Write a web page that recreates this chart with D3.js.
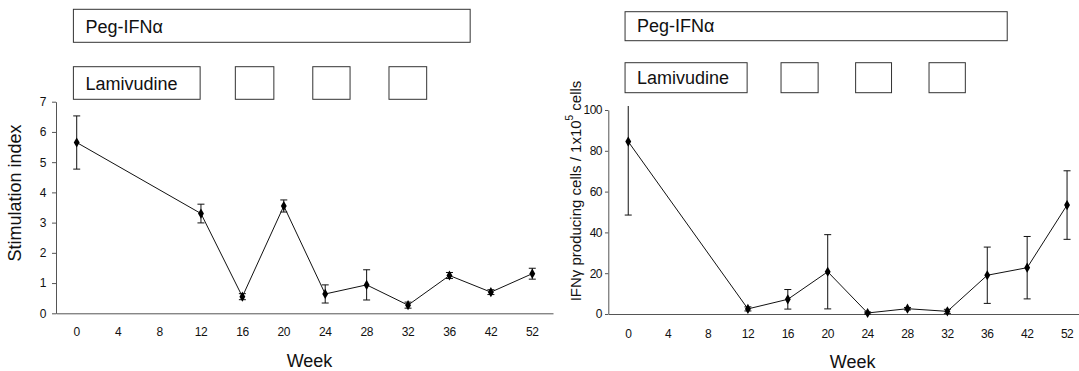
<!DOCTYPE html>
<html lang="en">
  <head>
    <meta charset="UTF-8" />
    <title>Peg-IFN / Lamivudine response</title>
    <style>
      body { margin: 0; background: #fff; }
      svg { display: block; font-family: "Liberation Sans", Arial, sans-serif; }
    </style>
  </head>
  <body>
    <div id="chart"></div>
    <script src="https://cdn.jsdelivr.net/npm/d3@7"></script>
    <script>
      //////////////////////////////////// Data ////////////////////////////////////
      var weeks = ["0", "4", "8", "12", "16", "20", "24", "28", "32", "36", "42", "52"];
      var sampledWeeks = ["0", "12", "16", "20", "24", "28", "32", "36", "42", "52"];

      //left panel: stimulation index, mean and error
      var siMean = [5.65, 3.3, 0.55, 3.55, 0.64, 0.94, 0.27, 1.25, 0.7, 1.31];
      var siErr = [0.88, 0.31, 0.1, 0.2, 0.3, 0.5, 0.1, 0.1, 0.08, 0.18];
      var siTicks = [0, 1, 2, 3, 4, 5, 6, 7];

      //right panel: IFNy producing cells per 1x10^5 cells
      var ifnMean = [84.5, 2.5, 7.2, 20.7, 0.5, 2.6, 1.3, 19, 22.7, 53.4];
      var ifnErr = [36, 1, 4.8, 18.2, 0.5, 0.6, 1, 13.8, 15.3, 16.8];
      var ifnTicks = [0, 20, 40, 60, 80, 100];

      var pegLabel = "Peg-IFNα";
      var lamLabel = "Lamivudine";

      //////////////////////////////////// Setup ///////////////////////////////////
      var width = 1079, height = 371;
      var svg = d3.select("#chart").append("svg")
        .attr("width", width).attr("height", height);
      svg.append("rect").attr("width", width).attr("height", height).attr("fill", "#fff");

      var defs = svg.append("defs");

      //treatment boxes, in band steps from the start of the x range
      var lamPulses = [[4.33, 5.26], [6.2, 7.1], [8.04, 8.95]];

      var panels = [
        { id: "si", x0: 56, x1: 553, top: 101.7, bottom: 313.3, yMax: 7,
          mean: siMean, err: siErr, ticks: siTicks, tickPad: 6, tickLen: 4, xPad: 14,
          pegY: [9.3, 42.3], lamY: [66.7, 99.3],
          title: "Stimulation index", titleX: 15, titleY: 193, titleSize: 18 },
        { id: "ifn", x0: 608.3, x1: 1087, top: 110, bottom: 314, yMax: 100,
          mean: ifnMean, err: ifnErr, ticks: ifnTicks, tickPad: 3, tickLen: 3.3, xPad: 15,
          pegY: [11.7, 40.7], lamY: [62.7, 92.7],
          title: null, titleX: 575, titleY: 191, titleSize: 15 }
      ];

      panels.forEach(drawPanel);

      function drawPanel(p) {
        var x = d3.scaleBand().domain(weeks).range([p.x0, p.x1]);
        var y = d3.scaleLinear().domain([0, p.yMax]).range([p.bottom, p.top]);
        var step = x.step();
        var bx = function(u) { return p.x0 + u * step; };

        var g = svg.append("g");

        //treatment bars
        var boxes = g.append("g").attr("fill", "none").attr("stroke", "#333").attr("stroke-width", 1);
        boxes.append("rect")
          .attr("x", bx(0.42)).attr("y", p.pegY[0])
          .attr("width", bx(10) - bx(0.42)).attr("height", p.pegY[1] - p.pegY[0]);
        boxes.append("rect")
          .attr("x", bx(0.42)).attr("y", p.lamY[0])
          .attr("width", bx(3.48) - bx(0.42)).attr("height", p.lamY[1] - p.lamY[0]);
        boxes.selectAll(".pulse").data(lamPulses).enter().append("rect")
          .attr("class", "pulse")
          .attr("x", function(d) { return bx(d[0]); }).attr("y", p.lamY[0])
          .attr("width", function(d) { return bx(d[1]) - bx(d[0]); })
          .attr("height", p.lamY[1] - p.lamY[0]);

        g.append("text").attr("x", bx(0.42) + 12).attr("y", p.pegY[1] - 9)
          .attr("font-size", 18).attr("fill", "#111").text(pegLabel);
        g.append("text").attr("x", bx(0.42) + 12).attr("y", p.lamY[1] - 9)
          .attr("font-size", 18).attr("fill", "#111").text(lamLabel);

        //axes
        var yAxis = g.append("g").attr("transform", "translate(" + p.x0 + ",0)")
          .call(d3.axisLeft(y).tickValues(p.ticks).tickFormat(d3.format("d"))
            .tickSize(p.tickLen).tickSizeOuter(0).tickPadding(p.tickPad));
        var xAxis = g.append("g").attr("transform", "translate(0," + p.bottom + ")")
          .call(d3.axisBottom(x).tickSize(0).tickSizeOuter(0).tickPadding(p.xPad));
        [yAxis, xAxis].forEach(function(a) {
          a.selectAll("path, line").attr("stroke", "#555");
          a.selectAll("text").attr("font-size", 12).attr("fill", "#111")
            .attr("letter-spacing", -0.5)
            .attr("font-family", "'Liberation Sans', Arial, sans-serif");
        });

        g.append("text")
          .attr("x", (p.x0 + p.x1) / 2 + 5).attr("y", p.bottom + 54)
          .attr("text-anchor", "middle").attr("font-size", 18).attr("fill", "#111")
          .text("Week");

        //y title
        var title = g.append("text")
          .attr("transform", "translate(" + p.titleX + "," + p.titleY + ") rotate(-90)")
          .attr("text-anchor", "middle").attr("dominant-baseline", "central")
          .attr("font-size", p.titleSize).attr("fill", "#111");
        if (p.title) {
          title.text(p.title);
        } else {
          title.append("tspan").text("IFNγ producing cells / 1x10");
          title.append("tspan").attr("dy", -6).attr("font-size", 10).text("5");
          title.append("tspan").attr("dy", 6).text(" cells");
        }

        //data
        var pts = sampledWeeks.map(function(w, i) {
          return { cx: x(w) + x.bandwidth() / 2, m: p.mean[i], e: p.err[i] };
        });

        defs.append("clipPath").attr("id", "clip-" + p.id)
          .append("rect").attr("x", p.x0).attr("y", p.top - 4)
          .attr("width", p.x1 - p.x0).attr("height", p.bottom - p.top + 20);

        var plot = g.append("g").attr("clip-path", "url(#clip-" + p.id + ")");

        var line = d3.line().x(function(d) { return d.cx; }).y(function(d) { return y(d.m); });
        plot.append("path").datum(pts).attr("d", line)
          .attr("fill", "none").attr("stroke", "#111").attr("stroke-width", 1);

        var eb = plot.selectAll(".eb").data(pts).enter().append("g").attr("class", "eb")
          .attr("stroke", "#111").attr("stroke-width", 1);
        eb.append("line")
          .attr("x1", function(d) { return d.cx; }).attr("x2", function(d) { return d.cx; })
          .attr("y1", function(d) { return y(d.m - d.e); }).attr("y2", function(d) { return y(d.m + d.e); });
        eb.append("line")
          .attr("x1", function(d) { return d.cx - 3.5; }).attr("x2", function(d) { return d.cx + 3.5; })
          .attr("y1", function(d) { return y(d.m - d.e); }).attr("y2", function(d) { return y(d.m - d.e); });
        eb.append("line")
          .attr("x1", function(d) { return d.cx - 3.5; }).attr("x2", function(d) { return d.cx + 3.5; })
          .attr("y1", function(d) { return y(d.m + d.e); }).attr("y2", function(d) { return y(d.m + d.e); });

        g.selectAll(".pt").data(pts).enter().append("path").attr("class", "pt")
          .attr("transform", function(d) { return "translate(" + d.cx + "," + y(d.m) + ")"; })
          .attr("d", d3.symbol(d3.symbolDiamond).size(30))
          .attr("fill", "#000");
      }
    </script>
  </body>
</html>
